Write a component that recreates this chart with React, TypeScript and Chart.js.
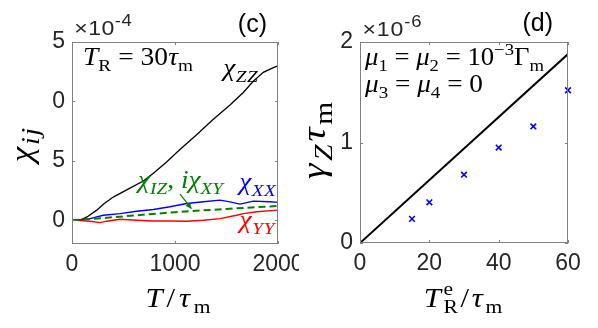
import React, { useEffect, useRef } from 'react';
import { Chart, registerables } from 'chart.js';
Chart.register(...registerables);

const SANS = '"Liberation Sans", Arial, sans-serif';
const SERIF = '"Liberation Serif", "Times New Roman", serif';
const TICK = '#262626';
const AXIS = '#808080';
const BLUE = '#0000ff';
const RED = '#ff0000';
const GREEN = '#008000';

// ---------- panel (c) ----------
const cXTicks = [0, 1000, 2000];
const cXTickLabels = ['0', '1000', '2000'];
const cYTicks = [0, 5, 10, 15];
const cYTickLabels = ['0', '5', '0', '5'];

const zzT = [0, 80, 150, 240, 304, 401, 531, 692, 790, 919, 1016, 1081, 1210, 1372, 1534, 1663, 1760, 1857, 1955, 2000];
const zzV = [0, 0.02, 0.3, 0.85, 1.35, 1.95, 2.55, 3.3, 3.95, 4.9, 5.7, 6.2, 7.2, 8.5, 9.7, 10.75, 11.7, 12.45, 12.85, 13.0];

const xxT = [0, 45, 175, 304, 466, 628, 790, 951, 1113, 1275, 1437, 1534, 1631, 1760, 1922, 2000];
const xxV = [0, 0, 0.14, 0.42, 0.56, 0.76, 0.9, 1.13, 1.41, 1.55, 1.69, 1.55, 1.36, 1.61, 1.55, 1.5];

const yyT = [0, 45, 175, 272, 337, 466, 628, 790, 951, 1113, 1275, 1437, 1598, 1663, 1792, 2000];
const yyV = [0, 0, -0.08, -0.2, -0.08, 0.08, 0, -0.06, -0.06, -0.08, 0, 0.14, 0.42, 0.56, 0.71, 0.85];

const izT = [0, 300, 600, 1000, 1500, 2000];
const izV = [0, 0.18, 0.4, 0.68, 0.95, 1.2];

// ---------- panel (d) ----------
const dXTicks = [0, 20, 40, 60];
const dXTickLabels = ['0', '20', '40', '60'];
const dYTicks = [0, 1, 2];
const dYTickLabels = ['0', '1', '2'];
const lineT = [0, 60];
const lineG = [0, 1.88];
const crossT = [15, 20, 30, 40, 50, 60];
const crossG = [0.24, 0.405, 0.68, 0.95, 1.16, 1.52];

const pts = (xs: number[], ys: number[]) => xs.map((x, i) => ({ x, y: ys[i] }));

type Seg = { t: string; it?: boolean; k?: 'sub' | 'sup'; t2?: string; sans?: boolean; sc?: number };

function drawRich(
  ctx: CanvasRenderingContext2D,
  segs: Seg[],
  size: number,
  x: number,
  y: number,
  opts: { color: string; align?: 'left' | 'center'; width?: number; maxStretch?: number }
) {
  ctx.save();
  const c: any = ctx;
  if ('letterSpacing' in c) c.letterSpacing = '0px';
  const items = segs.map((sg) => {
    const sz = sg.k ? size * (sg.sc ?? 0.7) : size;
    const fam = sg.sans ? SANS : SERIF;
    const font = `${sg.it ? 'italic ' : ''}${sz}px ${fam}`;
    ctx.font = font;
    let w = ctx.measureText(sg.t).width;
    let n = sg.t.length;
    if (sg.t2 !== undefined) {
      w = Math.max(w, ctx.measureText(sg.t2).width);
      n = 1;
    }
    return { sg, font, w, n };
  });
  const nat = items.reduce((a, b) => a + b.w, 0);
  const nChars = items.reduce((a, b) => a + b.n, 0);
  let sx = 1;
  let ls = 0;
  if (opts.width) {
    const ratio = opts.width / nat;
    const maxS = opts.maxStretch ?? 1.1;
    if (ratio <= maxS || !('letterSpacing' in c)) {
      sx = ratio;
    } else {
      sx = maxS;
      ls = (opts.width / sx - nat) / nChars;
    }
  }
  const total = opts.width ?? nat;
  ctx.translate(x - (opts.align === 'center' ? total / 2 : 0), y);
  ctx.scale(sx, 1);
  ctx.fillStyle = opts.color;
  ctx.textBaseline = 'alphabetic';
  ctx.textAlign = 'left';
  if (ls) c.letterSpacing = `${ls}px`;
  let cx = ls / 2;
  for (const it of items) {
    ctx.font = it.font;
    if (it.sg.t2 !== undefined) {
      ctx.fillText(it.sg.t, cx, -size * 0.42);
      ctx.fillText(it.sg.t2, cx, size * 0.22);
    } else {
      const dy = it.sg.k === 'sub' ? size * 0.22 : it.sg.k === 'sup' ? -size * 0.42 : 0;
      ctx.fillText(it.sg.t, cx, dy);
    }
    cx += it.w + it.n * ls;
  }
  ctx.restore();
}

const framePlugin = {
  id: 'frame',
  afterDatasetsDraw(chart: any) {
    const { ctx, chartArea: a, scales } = chart;
    ctx.save();
    ctx.strokeStyle = AXIS;
    ctx.lineWidth = 1;
    ctx.strokeRect(a.left + 0.5, a.top + 0.5, a.right - a.left - 1, a.bottom - a.top - 1);
    const L = 3;
    ctx.beginPath();
    scales.x.ticks.forEach((t: any) => {
      const px = Math.round(scales.x.getPixelForValue(t.value)) + 0.5;
      ctx.moveTo(px, a.bottom);
      ctx.lineTo(px, a.bottom - L);
      ctx.moveTo(px, a.top);
      ctx.lineTo(px, a.top + L);
    });
    scales.y.ticks.forEach((t: any) => {
      const py = Math.round(scales.y.getPixelForValue(t.value)) + 0.5;
      ctx.moveTo(a.left, py);
      ctx.lineTo(a.left + L, py);
      ctx.moveTo(a.right, py);
      ctx.lineTo(a.right - L, py);
    });
    ctx.stroke();
    ctx.restore();
  },
};

const leftText = {
  id: 'leftText',
  afterDraw(chart: any) {
    const { ctx, chartArea: a, scales } = chart;
    const X = (v: number) => scales.x.getPixelForValue(v);
    const Y = (v: number) => scales.y.getPixelForValue(v);
    drawRich(ctx, [{ t: '×10', sans: true }, { t: '-4', sans: true, k: 'sup', sc: 0.8 }], 21, a.left + 2, a.top - 7, { color: TICK, width: 58 });
    ctx.save();
    ctx.font = `25px ${SANS}`;
    ctx.fillStyle = '#000';
    ctx.textAlign = 'right';
    ctx.textBaseline = 'alphabetic';
    ctx.fillText('(c)', a.right - 11, 32);
    ctx.restore();
    drawRich(ctx, [{ t: 'T', it: true }, { t: 'R', k: 'sub' }, { t: ' = 30' }, { t: 'τ', it: true }, { t: 'm', k: 'sub' }], 25, X(107), Y(13.05), { color: '#000', width: 110 });
    drawRich(ctx, [{ t: 'χ', it: true }, { t: 'ZZ', it: true, k: 'sub' }], 25, X(1466), Y(12.12), { color: '#000', width: 35 });
    drawRich(ctx, [{ t: 'χ', it: true }, { t: 'IZ', it: true, k: 'sub' }, { t: ', ' }, { t: 'i', it: true }, { t: 'χ', it: true }, { t: 'XY', it: true, k: 'sub' }], 25, X(641), Y(2.71), { color: GREEN, width: 85 });
    drawRich(ctx, [{ t: 'χ', it: true }, { t: 'XX', it: true, k: 'sub' }], 25, X(1621), Y(2.54), { color: BLUE, width: 37 });
    drawRich(ctx, [{ t: 'χ', it: true }, { t: 'YY', it: true, k: 'sub' }], 25, X(1621), Y(-0.68), { color: RED, width: 36 });
    // arrow
    const x1 = X(1049), y1 = Y(2.2), x2 = X(1160), y2 = Y(0.97);
    ctx.save();
    ctx.strokeStyle = GREEN;
    ctx.fillStyle = GREEN;
    ctx.lineWidth = 1.2;
    ctx.beginPath();
    ctx.moveTo(x1, y1);
    ctx.lineTo(x2, y2);
    ctx.stroke();
    const ang = Math.atan2(y2 - y1, x2 - x1);
    const hl = 6, hw = 3;
    ctx.beginPath();
    ctx.moveTo(x2, y2);
    ctx.lineTo(x2 - hl * Math.cos(ang) + hw * Math.sin(ang), y2 - hl * Math.sin(ang) - hw * Math.cos(ang));
    ctx.lineTo(x2 - hl * Math.cos(ang) - hw * Math.sin(ang), y2 - hl * Math.sin(ang) + hw * Math.cos(ang));
    ctx.closePath();
    ctx.fill();
    ctx.restore();
    // axis titles
    drawRich(ctx, [{ t: 'T', it: true }, { t: '/' }, { t: 'τ', it: true }, { t: 'm', k: 'sub' }], 28, (a.left + a.right) / 2 + 3, 307, { color: '#000', width: 69, align: 'center' });
    ctx.save();
    ctx.translate(32, (a.top + a.bottom) / 2 + 2);
    ctx.rotate(-Math.PI / 2);
    drawRich(ctx, [{ t: 'χ', it: true }, { t: 'ij', it: true, k: 'sub', sc: 0.8 }], 32, 0, 0, { color: '#000', width: 36, align: 'center' });
    ctx.restore();
  },
};

const rightText = {
  id: 'rightText',
  afterDraw(chart: any) {
    const { ctx, chartArea: a, scales } = chart;
    const X = (v: number) => scales.x.getPixelForValue(v);
    const Y = (v: number) => scales.y.getPixelForValue(v);
    drawRich(ctx, [{ t: '×10', sans: true }, { t: '-6', sans: true, k: 'sup', sc: 0.8 }], 21, a.left + 2, a.top - 6, { color: TICK, width: 60 });
    ctx.save();
    ctx.font = `25px ${SANS}`;
    ctx.fillStyle = '#000';
    ctx.textAlign = 'right';
    ctx.textBaseline = 'alphabetic';
    ctx.fillText('(d)', a.right - 15, 31);
    ctx.restore();
    drawRich(ctx, [{ t: 'μ', it: true }, { t: '1', k: 'sub' }, { t: ' = ' }, { t: 'μ', it: true }, { t: '2', k: 'sub' }, { t: ' = 10' }, { t: '−3', k: 'sup' }, { t: 'Γ' }, { t: 'm', k: 'sub' }], 25, X(1.44), Y(1.77), { color: '#000', width: 179 });
    drawRich(ctx, [{ t: 'μ', it: true }, { t: '3', k: 'sub' }, { t: ' = ' }, { t: 'μ', it: true }, { t: '4', k: 'sub' }, { t: ' = 0' }], 25, X(1.44), Y(1.5), { color: '#000', width: 118 });
    drawRich(ctx, [{ t: 'T', it: true }, { t: 'e', t2: 'R', k: 'sub' }, { t: '/' }, { t: 'τ', it: true }, { t: 'm', k: 'sub' }], 28, (a.left + a.right) / 2 - 1, 307, { color: '#000', width: 81, align: 'center' });
    ctx.save();
    ctx.translate(26, (a.top + a.bottom) / 2 - 2);
    ctx.rotate(-Math.PI / 2);
    drawRich(ctx, [{ t: 'γ', it: true }, { t: 'Z', it: true, k: 'sub', sc: 0.75 }, { t: 'τ', it: true }, { t: 'm', k: 'sub', sc: 0.75 }], 34, 0, 0, { color: '#000', width: 80, align: 'center', maxStretch: 1.15 });
    ctx.restore();
  },
};

function axisX(min: number, max: number, ticks: number[], labels: string[], height: number, pad: number) {
  return {
    type: 'linear',
    min,
    max,
    afterBuildTicks: (s: any) => {
      s.ticks = ticks.map((v) => ({ value: v }));
    },
    afterFit: (s: any) => {
      s.height = height;
      s.paddingLeft = 0;
      s.paddingRight = 0;
    },
    ticks: {
      callback: (_v: any, i: number) => labels[i],
      font: { family: SANS, size: 23 },
      color: TICK,
      padding: pad,
      autoSkip: false,
      maxRotation: 0,
      minRotation: 0,
    },
    grid: { display: false, drawTicks: false },
    border: { display: false },
  };
}

function axisY(min: number, max: number, ticks: number[], labels: string[], width: number, pad: number) {
  return {
    type: 'linear',
    min,
    max,
    afterBuildTicks: (s: any) => {
      s.ticks = ticks.map((v) => ({ value: v }));
    },
    afterFit: (s: any) => {
      s.width = width;
      s.paddingTop = 0;
      s.paddingBottom = 0;
    },
    ticks: {
      callback: (_v: any, i: number) => labels[i],
      font: { family: SANS, size: 23 },
      color: TICK,
      padding: pad,
      autoSkip: false,
    },
    grid: { display: false, drawTicks: false },
    border: { display: false },
  };
}

export default function App() {
  const leftRef = useRef<HTMLCanvasElement>(null);
  const rightRef = useRef<HTMLCanvasElement>(null);

  useEffect(() => {
    const common = {
      responsive: false,
      animation: false,
      devicePixelRatio: 1,
      plugins: { legend: { display: false }, tooltip: { enabled: false } },
      elements: { point: { radius: 0 } },
    };
    const c1 = new Chart(leftRef.current as HTMLCanvasElement, {
      type: 'line',
      data: {
        datasets: [
          { data: pts(izT, izV), borderColor: GREEN, borderWidth: 2, borderDash: [7, 4], pointRadius: 0, tension: 0 },
          { data: pts(yyT, yyV), borderColor: RED, borderWidth: 1.4, pointRadius: 0, tension: 0 },
          { data: pts(xxT, xxV), borderColor: BLUE, borderWidth: 1.4, pointRadius: 0, tension: 0 },
          { data: pts(zzT, zzV), borderColor: '#000', borderWidth: 1.3, pointRadius: 0, tension: 0 },
        ],
      },
      options: {
        ...common,
        layout: { padding: { left: 0, top: 42, right: 21, bottom: 0 }, autoPadding: false },
        scales: {
          x: axisX(0, 2000, cXTicks, cXTickLabels, 84, 7),
          y: axisY(-2, 15, cYTicks, cYTickLabels, 72, 7),
        },
      } as any,
      plugins: [framePlugin, leftText],
    } as any);
    const c2 = new Chart(rightRef.current as HTMLCanvasElement, {
      type: 'line',
      data: {
        datasets: [
          { data: pts(lineT, lineG), borderColor: '#000', borderWidth: 2, pointRadius: 0, tension: 0 },
          {
            data: pts(crossT, crossG),
            showLine: false,
            clip: false,
            pointStyle: 'crossRot',
            pointRadius: 4,
            pointBorderWidth: 1.6,
            borderColor: BLUE,
            backgroundColor: BLUE,
          },
        ],
      },
      options: {
        ...common,
        layout: { padding: { left: 0, top: 42, right: 30, bottom: 0 }, autoPadding: false },
        scales: {
          x: axisX(0, 60, dXTicks, dXTickLabels, 85, 7),
          y: axisY(0, 2, dYTicks, dYTickLabels, 61, 7),
        },
      } as any,
      plugins: [framePlugin, rightText],
    } as any);
    return () => {
      c1.destroy();
      c2.destroy();
    };
  }, []);

  return (
    <div style={{ position: 'absolute', left: 0, top: 0, width: 598, height: 328, display: 'flex', background: '#fff' }}>
      <canvas ref={leftRef} width={299} height={328} style={{ display: 'block', width: 299, height: 328 }} />
      <canvas ref={rightRef} width={299} height={328} style={{ display: 'block', width: 299, height: 328 }} />
    </div>
  );
}
